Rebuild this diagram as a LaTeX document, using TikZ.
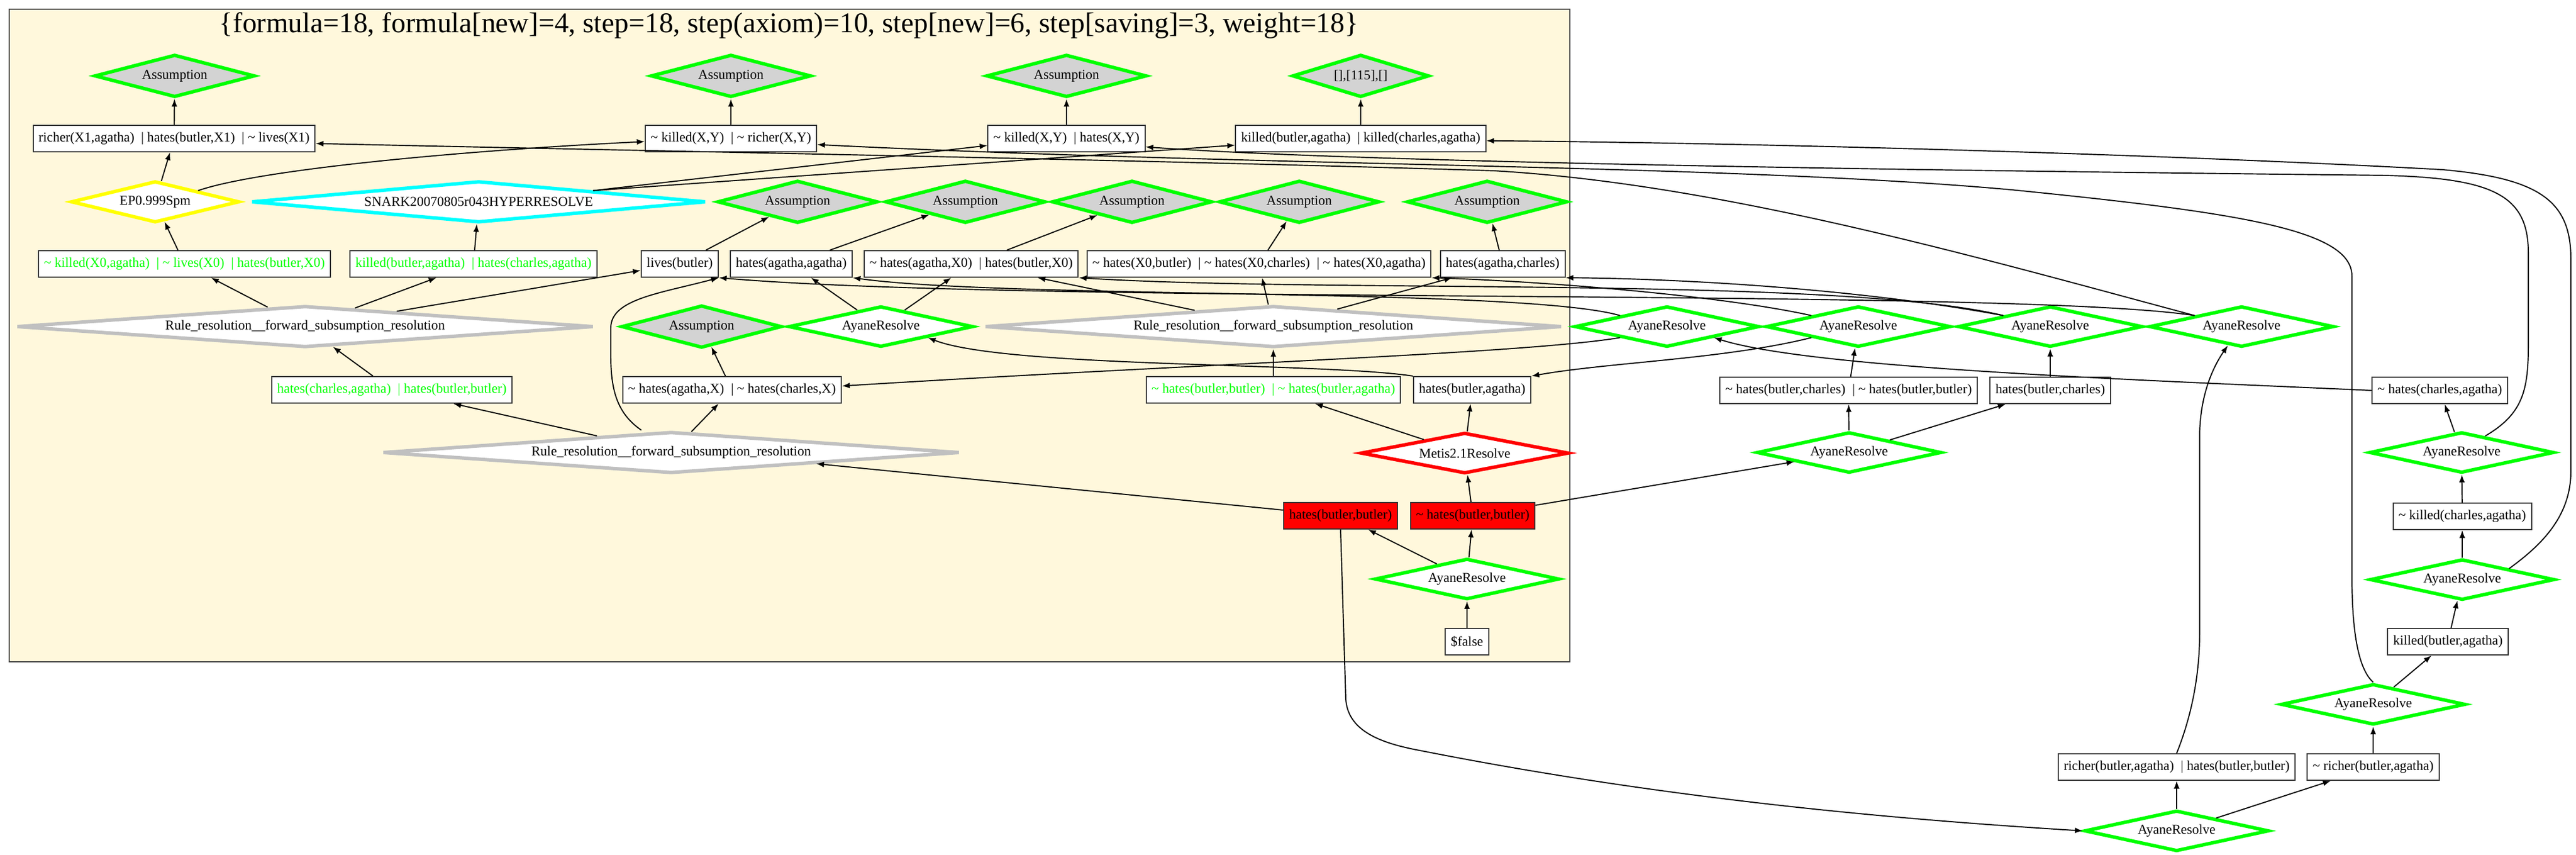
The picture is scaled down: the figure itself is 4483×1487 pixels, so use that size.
\documentclass[tikz,border=0pt]{standalone}
\usepackage{fontspec}
\setmainfont{Liberation Serif}
\usetikzlibrary{arrows.meta,shapes.geometric}

\definecolor{cornsilk}{HTML}{FFF8DC}
\definecolor{assumegray}{HTML}{D3D3D3}
\definecolor{rulegray}{HTML}{C0C0C0}
\definecolor{epyellow}{RGB}{255,255,0}
\definecolor{snarkcyan}{RGB}{0,255,255}
\definecolor{newgreen}{RGB}{0,255,0}
\definecolor{badred}{RGB}{255,0,0}
\newcommand{\negsym}{\textasciitilde\ }
\newcommand{\sepbar}{\ \ |\ }

\begin{document}
\begin{tikzpicture}[->,>={Latex[length=0.27cm,width=0.2cm]},x=0.02cm,y=-0.02cm,line width=1.1pt,
    font=\fontsize{13.4pt}{16pt}\selectfont]
      \tikzstyle{clause}=[draw=black!80,fill=white,line width=0.04cm,minimum height=0.92cm,inner xsep=0.19cm,inner ysep=0pt]
      \tikzstyle{newclause}=[clause,text=newgreen]
      \tikzstyle{redclause}=[clause,fill=badred]
      \tikzstyle{infer}=[diamond,draw,fill=white,line width=0.12cm,inner sep=0pt]
      \tikzstyle{assume}=[infer,draw=newgreen,fill=assumegray,minimum width=5.58cm,minimum height=1.48cm,aspect=3.77]
      \tikzstyle{ayane}=[infer,draw=newgreen,minimum width=6.42cm,minimum height=1.42cm,aspect=4.5]
      \tikzstyle{rulebox}=[infer,draw=rulegray,minimum width=20.08cm,minimum height=1.44cm,aspect=14]

      \useasboundingbox (0,0) rectangle (4483,1487);
      \draw[-,fill=cornsilk,draw=black!75,line width=0.04cm] (16,16) rectangle (2732,1151);
      \node[font=\fontsize{28.2pt}{32pt}\selectfont,anchor=base] (title) at (1373,57)
        {\{formula=18, formula[new]=4, step=18, step(axiom)=10, step[new]=6, step[saving]=3, weight=18\}};

      % inside the cluster
      \node[assume] (a1) at (304,132) {Assumption};
      \node[assume] (a2) at (1272,132) {Assumption};
      \node[assume] (a3) at (1856,132) {Assumption};
      \node[assume,minimum width=4.76cm,aspect=3.2] (a4) at (2368,132) {[],[115],[]};

      \node[clause] (c1) at (303,241) {richer(X1,agatha)\sepbar hates(butler,X1)\sepbar\negsym lives(X1)};
      \node[clause] (c2) at (1272,241) {\negsym killed(X,Y)\sepbar\negsym richer(X,Y)};
      \node[clause] (c3) at (1856,241) {\negsym killed(X,Y)\sepbar hates(X,Y)};
      \node[clause] (c4) at (2368,241) {killed(butler,agatha)\sepbar killed(charles,agatha)};

      \node[infer,draw=epyellow,minimum width=5.86cm,minimum height=1.44cm,aspect=4] (ep) at (270,351) {EP0.999Spm};
      \node[infer,draw=snarkcyan,minimum width=15.82cm,minimum height=1.44cm,aspect=11] (sn) at (833,351) {SNARK20070805r043HYPERRESOLVE};
      \node[assume] (a5) at (1388,351) {Assumption};
      \node[assume] (a6) at (1680,351) {Assumption};
      \node[assume] (a7) at (1970,351) {Assumption};
      \node[assume] (a8) at (2261,351) {Assumption};
      \node[assume] (a9) at (2588,351) {Assumption};

      \node[newclause] (c5) at (321,459) {\negsym killed(X0,agatha)\sepbar\negsym lives(X0)\sepbar hates(butler,X0)};
      \node[newclause] (c6) at (824,459) {killed(butler,agatha)\sepbar hates(charles,agatha)};
      \node[clause] (c7) at (1183,459) {lives(butler)};
      \node[clause] (c8) at (1377,459) {hates(agatha,agatha)};
      \node[clause] (c9) at (1690,459) {\negsym hates(agatha,X0)\sepbar hates(butler,X0)};
      \node[clause] (c10) at (2191,459) {\negsym hates(X0,butler)\sepbar\negsym hates(X0,charles)\sepbar\negsym hates(X0,agatha)};
      \node[clause] (c11) at (2615,459) {hates(agatha,charles)};

      \node[rulebox] (r1) at (531,568) {Rule\_resolution\_\_forward\_subsumption\_resolution};
      \node[assume] (a10) at (1221,568) {Assumption};
      \node[ayane] (ay1) at (1533,568) {AyaneResolve};
      \node[rulebox] (r2) at (2216,568) {Rule\_resolution\_\_forward\_subsumption\_resolution};

      \node[newclause] (c12) at (682,678) {hates(charles,agatha)\sepbar hates(butler,butler)};
      \node[clause] (c13) at (1274,678) {\negsym hates(agatha,X)\sepbar\negsym hates(charles,X)};
      \node[newclause] (c14) at (2216,678) {\negsym hates(butler,butler)\sepbar\negsym hates(butler,agatha)};
      \node[clause] (c15) at (2562,678) {hates(butler,agatha)};

      \node[rulebox] (r3) at (1168,787) {Rule\_resolution\_\_forward\_subsumption\_resolution};
      \node[infer,draw=badred,minimum width=7.24cm,minimum height=1.42cm,aspect=5] (m1) at (2549,788) {Metis2.1Resolve};

      \node[redclause] (c16) at (2333,897) {hates(butler,butler)};
      \node[redclause] (c17) at (2563,897) {\negsym hates(butler,butler)};
      \node[ayane] (ay2) at (2553,1007) {AyaneResolve};
      \node[clause] (c18) at (2553,1116) {\$false};

      % outside the cluster
      \node[ayane] (ay3) at (2901,568) {AyaneResolve};
      \node[ayane] (ay4) at (3234,568) {AyaneResolve};
      \node[ayane] (ay5) at (3568,568) {AyaneResolve};
      \node[ayane] (ay6) at (3901,568) {AyaneResolve};
      \node[clause] (c19) at (3217,679) {\negsym hates(butler,charles)\sepbar\negsym hates(butler,butler)};
      \node[clause] (c20) at (3568,679) {hates(butler,charles)};
      \node[clause] (c21) at (4246,679) {\negsym hates(charles,agatha)};
      \node[ayane] (ay7) at (3218,787) {AyaneResolve};
      \node[ayane] (ay8) at (4284,787) {AyaneResolve};
      \node[clause] (c22) at (4285,898) {\negsym killed(charles,agatha)};
      \node[ayane] (ay9) at (4285,1008) {AyaneResolve};
      \node[clause] (c23) at (4260,1116) {killed(butler,agatha)};
      \node[ayane] (ay10) at (4130,1225) {AyaneResolve};
      \node[clause] (c24) at (3788,1334) {richer(butler,agatha)\sepbar hates(butler,butler)};
      \node[clause] (c25) at (4130,1334) {\negsym richer(butler,agatha)};
      \node[ayane] (ay11) at (3788,1445) {AyaneResolve};

      \path (c1) edge (a1);
      \path (c2) edge (a2);
      \path (c3) edge (a3);
      \path (c4) edge (a4);
      \path (ep) edge (c1);
      \path (c5) edge (ep);
      \path (c6) edge (sn);
      \path (sn.north east) edge (c3.-175);
      \path (sn.north east) edge (c4.-177);
      \path (r1) edge (c5);
      \path (r1) edge (c6);
      \path (r1) edge (c7);
      \path (c12) edge (r1);
      \path (r3) edge (c12);
      \path (r3) edge (c13);
      \path (c13) edge (a10);
      \path (c7) edge (a5);
      \path (c8) edge (a6);
      \path (c9) edge (a7);
      \path (c10) edge (a8);
      \path (c11) edge (a9);
      \path (ay1) edge (c8);
      \path (ay1) edge (c9);
      \path (r2) edge (c9);
      \path (r2) edge (c10);
      \path (r2) edge (c11);
      \path (c14) edge (r2);
      \path (m1) edge (c14);
      \path (m1) edge (c15);
      \path (c17) edge (m1);
      \path (c16) edge (r3.south east);
      \path (ay2) edge (c16);
      \path (ay2) edge (c17);
      \path (c18) edge (ay2);
      \path (c17) edge (ay7);
      \path (ay7) edge (c19);
      \path (ay7) edge (c20);
      \path (c19) edge (ay4);
      \path (c20) edge (ay5);
      \path (ay8) edge (c21);
      \path (c22) edge (ay8);
      \path (ay9) edge (c22);
      \path (c23) edge (ay9);
      \path (ay10) edge (c23);
      \path (c25) edge (ay10);
      \path (ay11) edge (c24);
      \path (ay11) edge (c25);

      % long curved connectors
      \draw (ep.north east) .. controls (450,295) and (800,262) .. (c2.-178);
      \draw ([xshift=-1.04cm]r3.north) .. controls (1075,720) and (1063,680) .. (1063,620) -- (1063,570)
        .. controls (1063,520) and (1150,510) .. (c7.south east);
      \draw (c15.north west) .. controls (2300,630) and (1750,640) .. (ay1.south east);
      \draw (c16.south) -- (2342,1215) .. controls (2345,1270) and (2400,1292) .. (2470,1305)
        .. controls (2900,1390) and (3300,1425) .. (ay11.west);
      \draw (c21.west) .. controls (3700,660) and (3150,640) .. (ay3.south east);
      \draw (c24.north) .. controls (3812,1250) and (3828,1180) .. (3828,1100) -- (3828,760)
        .. controls (3828,690) and (3850,640) .. (ay6.-126);
      \draw (ay3.north west) .. controls (2650,500) and (1750,520) .. (c8.south east);
      \draw (ay3.south west) .. controls (2650,615) and (2100,632) .. (c13.2);
      \draw (ay4.north west) .. controls (3000,515) and (2700,490) .. (c10.south east);
      \draw (ay4.south west) .. controls (3000,625) and (2800,630) .. (c15.north east);
      \draw (ay5.north west) .. controls (3200,480) and (2300,510) .. (c9.south east);
      \draw (ay5.north west) .. controls (3250,505) and (2950,485) .. (c11.south east);
      \draw (ay6.north west) .. controls (3500,500) and (1800,530) .. (c7.south east);
      \draw (ay6.north west) .. controls (3450,450) and (3000,320) .. (2600,297)
        .. controls (2000,278) and (1100,262) .. (c1.-2);
      \draw (ay10.north) .. controls (4100,1160) and (4093,1080) .. (4093,1000) -- (4093,480)
        .. controls (4093,400) and (3900,370) .. (3500,330) .. controls (3000,285) and (2200,290) .. (c2.-4);
      \draw (ay9.north east) .. controls (4420,950) and (4474,900) .. (4474,820) -- (4474,450)
        .. controls (4474,350) and (4420,310) .. (4250,295) .. controls (3700,265) and (3000,248) .. (c4.-1);
      \draw (ay8.35) .. controls (4390,720) and (4400,680) .. (4400,600) -- (4400,440)
        .. controls (4400,340) and (4340,310) .. (4150,305) .. controls (3500,298) and (2400,285) .. (c3.-6);
\end{tikzpicture}
\end{document}
